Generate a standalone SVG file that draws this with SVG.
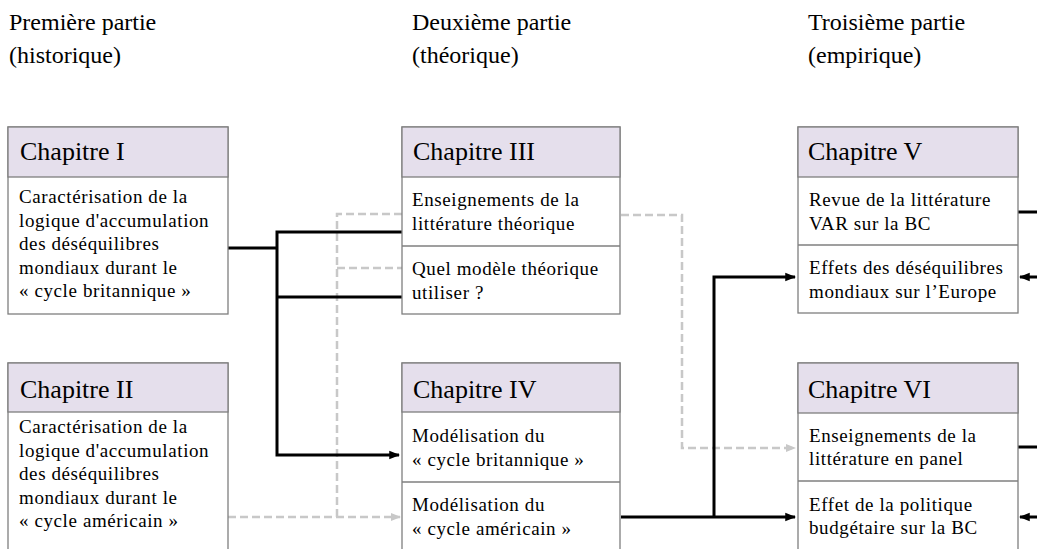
<svg xmlns="http://www.w3.org/2000/svg" width="1037" height="549" viewBox="0 0 1037 549">
<style>
.box{fill:#ffffff;stroke:#7f7f7f;stroke-width:1.3}
.hdr{fill:#e5dfec;stroke:#7f7f7f;stroke-width:1.3}
.div{stroke:#7f7f7f;stroke-width:1.3}
.title{font-family:"Liberation Serif",serif;font-size:24px;fill:#000}
.htxt{font-family:"Liberation Serif",serif;font-size:26px;fill:#000}
.btxt{font-family:"Liberation Serif",serif;font-size:19px;fill:#000;letter-spacing:0.6px}
.solid{fill:none;stroke:#000;stroke-width:3}
.dash{fill:none;stroke:#c8c8c8;stroke-width:2.5;stroke-dasharray:8 4}
</style>
<defs>
<marker id="ab" viewBox="0 0 10 10" refX="9" refY="5" markerWidth="3.6" markerHeight="3.6" orient="auto" markerUnits="strokeWidth">
<path d="M0,1 L10,5 L0,9 z" fill="#000"/>
</marker>
<marker id="ag" viewBox="0 0 10 10" refX="9" refY="5" markerWidth="4" markerHeight="4" orient="auto" markerUnits="strokeWidth">
<path d="M0,1 L10,5 L0,9 z" fill="#c8c8c8"/>
</marker>
</defs>
<rect width="1037" height="549" fill="#ffffff"/>

<g id="titles">
<text class="title" x="9" y="30">Première partie</text>
<text class="title" x="9" y="63">(historique)</text>
<text class="title" x="412" y="30">Deuxième partie</text>
<text class="title" x="412" y="63">(théorique)</text>
<text class="title" x="808" y="30">Troisième partie</text>
<text class="title" x="808" y="63">(empirique)</text>
</g>

<g id="connectors">
<path class="dash" d="M228,517 H400" marker-end="url(#ag)"/>
<path class="dash" d="M337,517 V214 H402"/>
<path class="dash" d="M337,268 H402"/>
<path class="dash" d="M621,215 H682 V448 H795" marker-end="url(#ag)"/>
<path class="solid" d="M228,248 H277"/>
<path class="solid" d="M402,232 H277 V455 H399" marker-end="url(#ab)"/>
<path class="solid" d="M277,297 H402"/>
<path class="solid" d="M621,517 H795" marker-end="url(#ab)"/>
<path class="solid" d="M714,517 V277 H795" marker-end="url(#ab)"/>
<path class="solid" d="M1018,212 H1037"/>
<path class="solid" d="M1037,277 H1020" marker-end="url(#ab)"/>
<path class="solid" d="M1018,447 H1037"/>
<path class="solid" d="M1037,517 H1020" marker-end="url(#ab)"/>
</g>

<g id="ch1">
<rect class="box" x="8" y="127" width="220" height="187"/>
<rect class="hdr" x="8" y="127" width="220" height="50"/>
<text class="htxt" x="20" y="160">Chapitre I</text>
<text class="btxt" x="19" y="203">Caractérisation de la</text>
<text class="btxt" x="19" y="226.5">logique d'accumulation</text>
<text class="btxt" x="19" y="250">des déséquilibres</text>
<text class="btxt" x="19" y="273.5">mondiaux durant le</text>
<text class="btxt" x="19" y="297">« cycle britannique »</text>
</g>

<g id="ch2">
<rect class="box" x="8" y="363" width="220" height="200"/>
<rect class="hdr" x="8" y="363" width="220" height="49"/>
<text class="htxt" x="20" y="398">Chapitre II</text>
<text class="btxt" x="19" y="433">Caractérisation de la</text>
<text class="btxt" x="19" y="456.5">logique d'accumulation</text>
<text class="btxt" x="19" y="480">des déséquilibres</text>
<text class="btxt" x="19" y="503.5">mondiaux durant le</text>
<text class="btxt" x="19" y="527">« cycle américain »</text>
</g>

<g id="ch3">
<rect class="box" x="402" y="127" width="218" height="187"/>
<rect class="hdr" x="402" y="127" width="218" height="50"/>
<line class="div" x1="402" y1="246" x2="620" y2="246"/>
<text class="htxt" x="413" y="160">Chapitre III</text>
<text class="btxt" x="412" y="206">Enseignements de la</text>
<text class="btxt" x="412" y="230">littérature théorique</text>
<text class="btxt" x="412" y="275">Quel modèle théorique</text>
<text class="btxt" x="412" y="299">utiliser ?</text>
</g>

<g id="ch4">
<rect class="box" x="402" y="363" width="218" height="200"/>
<rect class="hdr" x="402" y="363" width="218" height="49"/>
<line class="div" x1="402" y1="482" x2="620" y2="482"/>
<text class="htxt" x="413" y="398">Chapitre IV</text>
<text class="btxt" x="412" y="442">Modélisation du</text>
<text class="btxt" x="412" y="466">« cycle britannique »</text>
<text class="btxt" x="412" y="511">Modélisation du</text>
<text class="btxt" x="412" y="535">« cycle américain »</text>
</g>

<g id="ch5">
<rect class="box" x="798" y="127" width="220" height="186"/>
<rect class="hdr" x="798" y="127" width="220" height="50"/>
<line class="div" x1="798" y1="245" x2="1018" y2="245"/>
<text class="htxt" x="808" y="160">Chapitre V</text>
<text class="btxt" x="809" y="206">Revue de la littérature</text>
<text class="btxt" x="809" y="230">VAR sur la BC</text>
<text class="btxt" x="809" y="274">Effets des déséquilibres</text>
<text class="btxt" x="809" y="298">mondiaux sur l’Europe</text>
</g>

<g id="ch6">
<rect class="box" x="798" y="363" width="220" height="190"/>
<rect class="hdr" x="798" y="363" width="220" height="50"/>
<line class="div" x1="798" y1="481" x2="1018" y2="481"/>
<text class="htxt" x="808" y="398">Chapitre VI</text>
<text class="btxt" x="809" y="442">Enseignements de la</text>
<text class="btxt" x="809" y="465">littérature en panel</text>
<text class="btxt" x="809" y="511">Effet de la politique</text>
<text class="btxt" x="809" y="534">budgétaire sur la BC</text>
</g>
</svg>
